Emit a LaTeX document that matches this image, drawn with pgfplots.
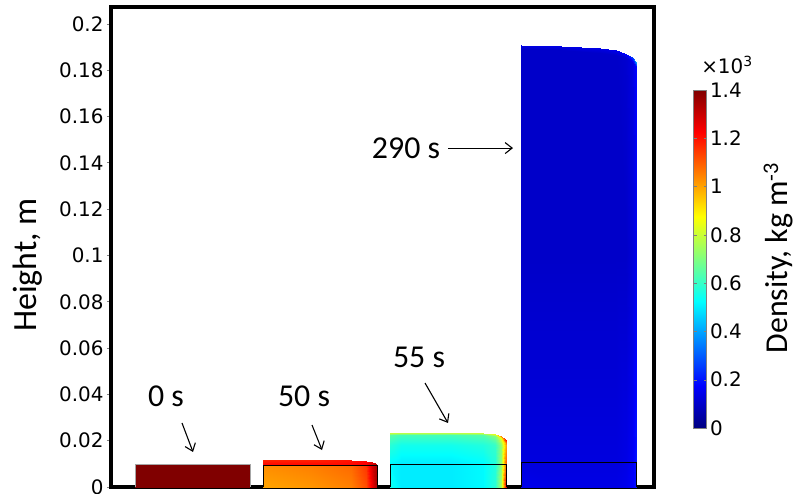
\documentclass[border=0pt]{standalone}
\usepackage{pgfplots}
\pgfplotsset{compat=1.18}
\usepackage{pgfplotstable}
\usepackage{fontspec}
\setmainfont{Carlito}
\newfontfamily\dejavu{DejaVu Sans}
\usetikzlibrary{arrows.meta}

% density (x10^3 kg m^-3) over each column, x in plot units
\pgfplotstableread{
x y m
24 0 1.4
139 0 1.4
24 0.0100 1.4
139 0.0100 1.4
}\barA
\pgfplotstableread{
x y m
152 0 1.00
200 0 1.02
240 0 1.05
255 0 1.12
261 0 1.25
266 0 1.35
152 0.0091 1.03
200 0.0091 1.05
240 0.0091 1.08
255 0.0091 1.15
261 0.0091 1.28
266 0.0091 1.35
152 0.0095 1.22
200 0.0095 1.22
240 0.0095 1.22
255 0.0095 1.24
261 0.0095 1.30
266 0.0095 1.35
152 0.0117 1.18
200 0.0117 1.18
240 0.0116 1.20
255 0.0112 1.22
261 0.0106 1.26
266 0.0099 1.30
}\barB
\pgfplotstableread{
x y m
279 0 0.55
290 0 0.50
340 0 0.50
372 0 0.52
384 0 0.58
390 0 0.75
395 0 1.25
279 0.0099 0.52
290 0.0099 0.50
340 0.0099 0.50
372 0.0099 0.52
384 0.0099 0.57
390 0.0099 0.72
395 0.0099 1.10
279 0.0180 0.58
290 0.0180 0.55
340 0.0180 0.55
372 0.0180 0.57
384 0.0180 0.60
390 0.0180 0.72
395 0.0180 1.00
279 0.0225 0.65
290 0.0225 0.62
340 0.0225 0.62
372 0.0224 0.64
384 0.0220 0.70
390 0.0212 0.85
395 0.0195 1.10
279 0.0233 0.80
290 0.0233 0.78
340 0.0233 0.78
372 0.0232 0.80
384 0.0228 0.85
390 0.0220 1.05
395 0.0203 1.20
}\barC
\pgfplotstableread{
x y m
410 0 0.15
450 0 0.14
489 0 0.14
505 0 0.14
515 0 0.15
521 0 0.17
525 0 0.20
410 0.0106 0.13
450 0.0106 0.13
489 0.0106 0.13
505 0.0106 0.13
515 0.0106 0.14
521 0.0106 0.16
525 0.0106 0.20
410 0.1000 0.10
450 0.1000 0.10
489 0.1000 0.10
505 0.1000 0.10
515 0.1000 0.10
521 0.1000 0.12
525 0.1000 0.15
410 0.1890 0.10
450 0.1886 0.10
489 0.1876 0.10
505 0.1866 0.10
515 0.1852 0.11
521 0.1836 0.13
525 0.1814 0.18
410 0.1910 0.14
450 0.1906 0.14
489 0.1896 0.14
505 0.1886 0.15
515 0.1872 0.18
521 0.1856 0.25
525 0.1834 0.40
}\barD

\begin{document}
\begin{tikzpicture}
\path[use as bounding box] (-111bp,-7bp) rectangle (682bp,487bp);
\begin{axis}[
  at={(0,0)}, anchor=south west,
  scale only axis, width=543bp, height=480bp,
  xmin=0, xmax=543, ymin=0, ymax=0.20734,
  enlargelimits=false,
  xtick=\empty,
  ytick={0,0.02,0.04,0.06,0.08,0.1,0.12,0.14,0.16,0.18,0.2},
  ytick pos=left, tick align=outside, major tick length=4bp,
  tick style={gray, line width=0.8bp},
  axis line style={black, line width=3.5bp},
  /pgf/number format/assume math mode=true,
  yticklabel style={font=\dejavu\fontsize{20}{24}\selectfont,
    /pgf/number format/.cd, fixed, precision=2},
  ylabel={Height, m},
  every axis y label/.style={at={(axis description cs:-0.1529,0.4625)}, rotate=90, anchor=center, font=\fontsize{34}{40}\selectfont},
  colormap/jet, point meta min=0, point meta max=1.4,
  colorbar,
  colorbar style={
    scale only axis,
    width=13bp, height=338bp,
    at={(parent axis.south east)}, anchor=south west, xshift=31bp, yshift=59bp,
    ytick={0,0.2,0.4,0.6,0.8,1,1.2,1.4},
    /pgf/number format/assume math mode=true,
    yticklabel style={font=\dejavu\fontsize{20}{24}\selectfont,
      /pgf/number format/.cd, fixed, precision=1},
    axis line style={gray, line width=0.6bp},
    tick style={gray},
    major tick length=3bp,
    ylabel={Density, kg m\textsuperscript{-3}},
    every axis y label/.style={at={(axis description cs:7.2,0.503)}, rotate=90, anchor=base, inner sep=0pt, font=\fontsize{32}{38}\selectfont},
  },
]
\addplot[surf, shader=interp, mesh/rows=2, mesh/cols=2, point meta=explicit] table[x=x, y=y, meta=m] {\barA};
\addplot[surf, shader=interp, mesh/rows=4, mesh/cols=6, point meta=explicit] table[x=x, y=y, meta=m] {\barB};
\addplot[surf, shader=interp, mesh/rows=5, mesh/cols=7, point meta=explicit] table[x=x, y=y, meta=m] {\barC};
\addplot[surf, shader=interp, mesh/rows=5, mesh/cols=7, point meta=explicit] table[x=x, y=y, meta=m] {\barD};
% initial bed outline
\addplot[gray!70, line width=0.6bp] coordinates {(24,0) (24,0.0100) (139,0.0100) (139,0)};
\addplot[black, line width=0.8bp] coordinates {(152,0) (152,0.0093) (266,0.0093) (266,0)};
\addplot[black, line width=0.8bp] coordinates {(279,0) (279,0.0099) (395,0.0099) (395,0)};
\addplot[black, line width=0.8bp] coordinates {(410,0) (410,0.0106) (525,0.0106) (525,0)};
% time annotations
\node[anchor=base, font=\fontsize{32}{38}\selectfont] at (axis cs:55,0.0346) {0 s};
\node[anchor=base, font=\fontsize{32}{38}\selectfont] at (axis cs:193,0.0346) {50 s};
\node[anchor=base, font=\fontsize{32}{38}\selectfont] at (axis cs:308,0.0518) {55 s};
\node[anchor=base, font=\fontsize{32}{38}\selectfont] at (axis cs:295,0.1421) {290 s};
\draw[-{Straight Barb[length=7bp,width=11bp]}, line width=1.1bp] (axis cs:71,0.02765) -- (axis cs:82,0.01512);
\draw[-{Straight Barb[length=7bp,width=11bp]}, line width=1.1bp] (axis cs:201,0.02678) -- (axis cs:211,0.01598);
\draw[-{Straight Barb[length=7bp,width=11bp]}, line width=1.1bp] (axis cs:314,0.04492) -- (axis cs:337,0.02765);
\draw[-{Straight Barb[length=7bp,width=11bp]}, line width=1.1bp] (axis cs:337,0.1464) -- (axis cs:402,0.1464);
\end{axis}
\node[font=\dejavu\fontsize{20}{24}\selectfont] at (616bp,422bp) {×10\textsuperscript{3}};
\end{tikzpicture}
\end{document}
